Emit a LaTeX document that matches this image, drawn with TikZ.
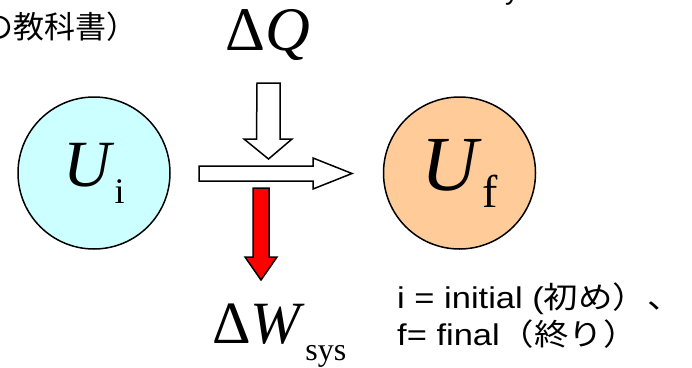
\documentclass[tikz,border=0pt]{standalone}
\usepackage{fontspec}
\setmainfont{Liberation Serif}
\newfontfamily\jpfont{Noto Sans CJK JP}
\newfontfamily\arialfont{Liberation Sans}
\usetikzlibrary{positioning}
\definecolor{initfill}{HTML}{CCFFFF}
\definecolor{finalfill}{HTML}{FFCC99}
\tikzset{
  energy/.style={circle,draw,line width=1.5pt,minimum size=152pt,inner sep=0pt},
  hollowarrow/.style={draw,fill=white,line width=1.5pt},
  workarrow/.style={draw,fill=red,line width=1.5pt},
  bigsym/.style={inner sep=0pt,anchor=base west},
  note/.style={inner sep=0pt,anchor=base west,font=\fontsize{30}{30}\selectfont},
}
\newcommand{\bigsize}[1]{\fontsize{#1}{#1}\selectfont}
\newcommand{\wide}[1]{\scalebox{1.15}[1]{#1}}

\begin{document}
\begin{tikzpicture}[x=1pt,y=-1pt,node distance=212pt]
\useasboundingbox (0,0) rectangle (692,367);

\node[note,font=\bigsize{31}\jpfont,anchor=west] (book) at (-18,27) {の教科書）};
\node[note,font=\bigsize{28}\arialfont] (cut) at (505,-1) {y};

\node[energy,fill=initfill] (ui) at (94,173)
  {\bigsize{66}\textit{U}\raisebox{-17pt}{\bigsize{36}i}};
\node[energy,fill=finalfill,right=of ui] (uf)
  {\bigsize{78}\textit{U}\raisebox{-17pt}{\bigsize{46}f}};

\node[bigsym,font=\bigsize{62}] (dq) at (225,50) {Δ\textit{Q}};
\node[bigsym,font=\bigsize{60}] (dw) at (212,343)
  {Δ\textit{W}\raisebox{-17pt}{\bigsize{32}sys}};

\draw[hollowarrow] (257,83) -- ++(23,0) -- ++(0,56) -- ++(12,0)
  -- ++(-23.5,20) -- ++(-24.5,-20) -- ++(12.5,0) -- cycle;
\draw[hollowarrow] (199,166) -- ++(114,0) -- ++(0,-8) -- ++(39,15.5)
  -- ++(-39,15.5) -- ++(0,-8) -- ++(-114,0) -- cycle;
\draw[workarrow] (253,188) -- ++(16,0) -- ++(0,69) -- ++(8,0)
  -- ++(-16,23) -- ++(-16,-23) -- ++(8,0) -- cycle;

\node[note] (ini) at (397,308) {\wide{\arialfont i = initial (\jpfont 初め）、}};
\node[note] (fin) at (397,345) {\wide{\arialfont f= final\jpfont（終り）}};

\end{tikzpicture}
\end{document}
